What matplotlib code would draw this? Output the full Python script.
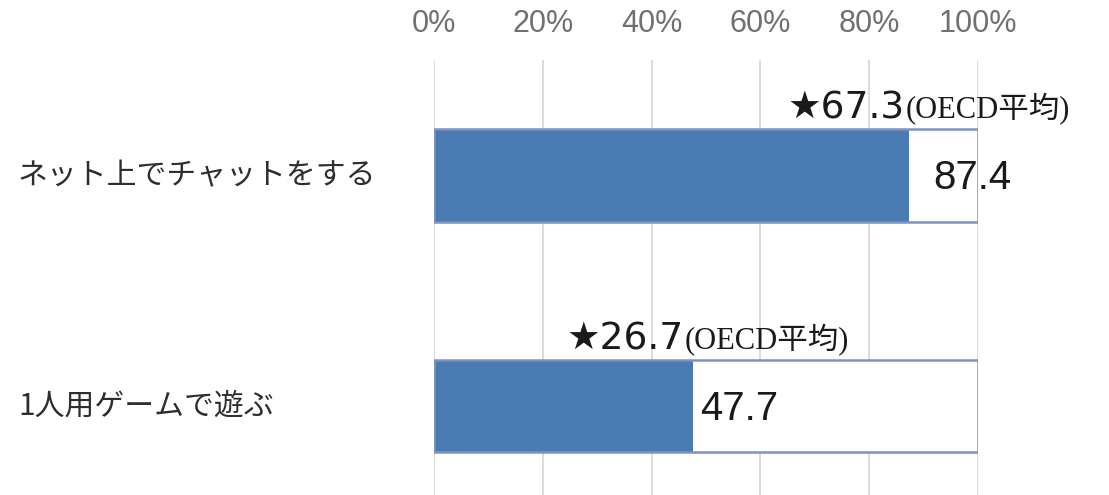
import matplotlib
matplotlib.use("Agg")
import matplotlib.pyplot as plt

# Data
categories = ["ネット上でチャットをする", "1人用ゲームで遊ぶ"]
values = [87.4, 47.7]
oecd_avg = [67.3, 26.7]
tick_values = [0, 20, 40, 60, 80, 100]
tick_labels = ["0%", "20%", "40%", "60%", "80%", "100%"]

BAR_COLOR = "#4a7ab2"
FRAME_COLOR = "#7d93c0"
GRID_COLOR = "#d6d6d6"

fig = plt.figure(figsize=(11.09, 4.95), dpi=100)
W, H = 1109, 495
ax = fig.add_axes([434 / W, 0, (978 - 434) / W, (495 - 60) / H])

ax.set_xlim(0, 100)
ax.set_ylim(1.386, -0.501)
ypos = list(range(len(categories)))
bar_h = 0.40

# full-width frame, value bar, frame outline on top
ax.barh(ypos, [100] * len(ypos), height=bar_h, color="white", edgecolor="none", zorder=2)
ax.barh(ypos, values, height=bar_h, color=BAR_COLOR, edgecolor="none", zorder=3)
ax.barh(ypos, [100] * len(ypos), height=bar_h, facecolor="none",
        edgecolor=FRAME_COLOR, linewidth=1.8, zorder=4)

# vertical grid and top tick labels
for t in tick_values:
    ax.axvline(t, color=GRID_COLOR, linewidth=1.2, zorder=1)
ax.xaxis.tick_top()
ax.set_xticks(tick_values)
ax.set_xticklabels(tick_labels, fontsize=22, color="#707070",
                   family=["Liberation Sans", "DejaVu Sans"])
ax.tick_params(axis="x", length=0, pad=15)
ax.set_yticks([])
for s in ax.spines.values():
    s.set_visible(False)

# category labels, left-aligned in the figure
for i, cat in enumerate(categories):
    ax.annotate(cat, xy=(0, i), xycoords=("figure pixels", "data"),
                xytext=(18, 0), textcoords="offset pixels",
                ha="left", va="center", fontsize=21.5, color="#2e2e2e",
                family=["Noto Sans CJK JP", "DejaVu Sans"])

# value labels
value_dx = [24, 7]
for i, v in enumerate(values):
    ax.annotate(f"{v:.1f}", xy=(v, i), xytext=(value_dx[i], -14),
                textcoords="offset pixels", ha="left", va="baseline",
                fontsize=29, color="#1a1a1a", zorder=6,
                family=["Liberation Sans", "DejaVu Sans"])

# OECD average markers
star_texts = []
for i, a in enumerate(oecd_avg):
    t = ax.annotate(f"★{a:.1f}", xy=(a, i), xytext=(-13, 57),
                    textcoords="offset pixels", ha="left", va="baseline",
                    fontsize=27, color="#1a1a1a", zorder=6,
                    family=["DejaVu Sans"])
    star_texts.append(t)

fig.canvas.draw()
renderer = fig.canvas.get_renderer()
for i, a in enumerate(oecd_avg):
    w = star_texts[i].get_window_extent(renderer).width
    ax.annotate("(OECD平均)", xy=(a, i), xytext=(-13 + w + 1, 57),
                textcoords="offset pixels", ha="left", va="baseline",
                fontsize=22, color="#1a1a1a", zorder=6,
                family=["Liberation Serif", "Noto Sans CJK JP"])

fig.savefig("out.png", dpi=100, facecolor="white")
